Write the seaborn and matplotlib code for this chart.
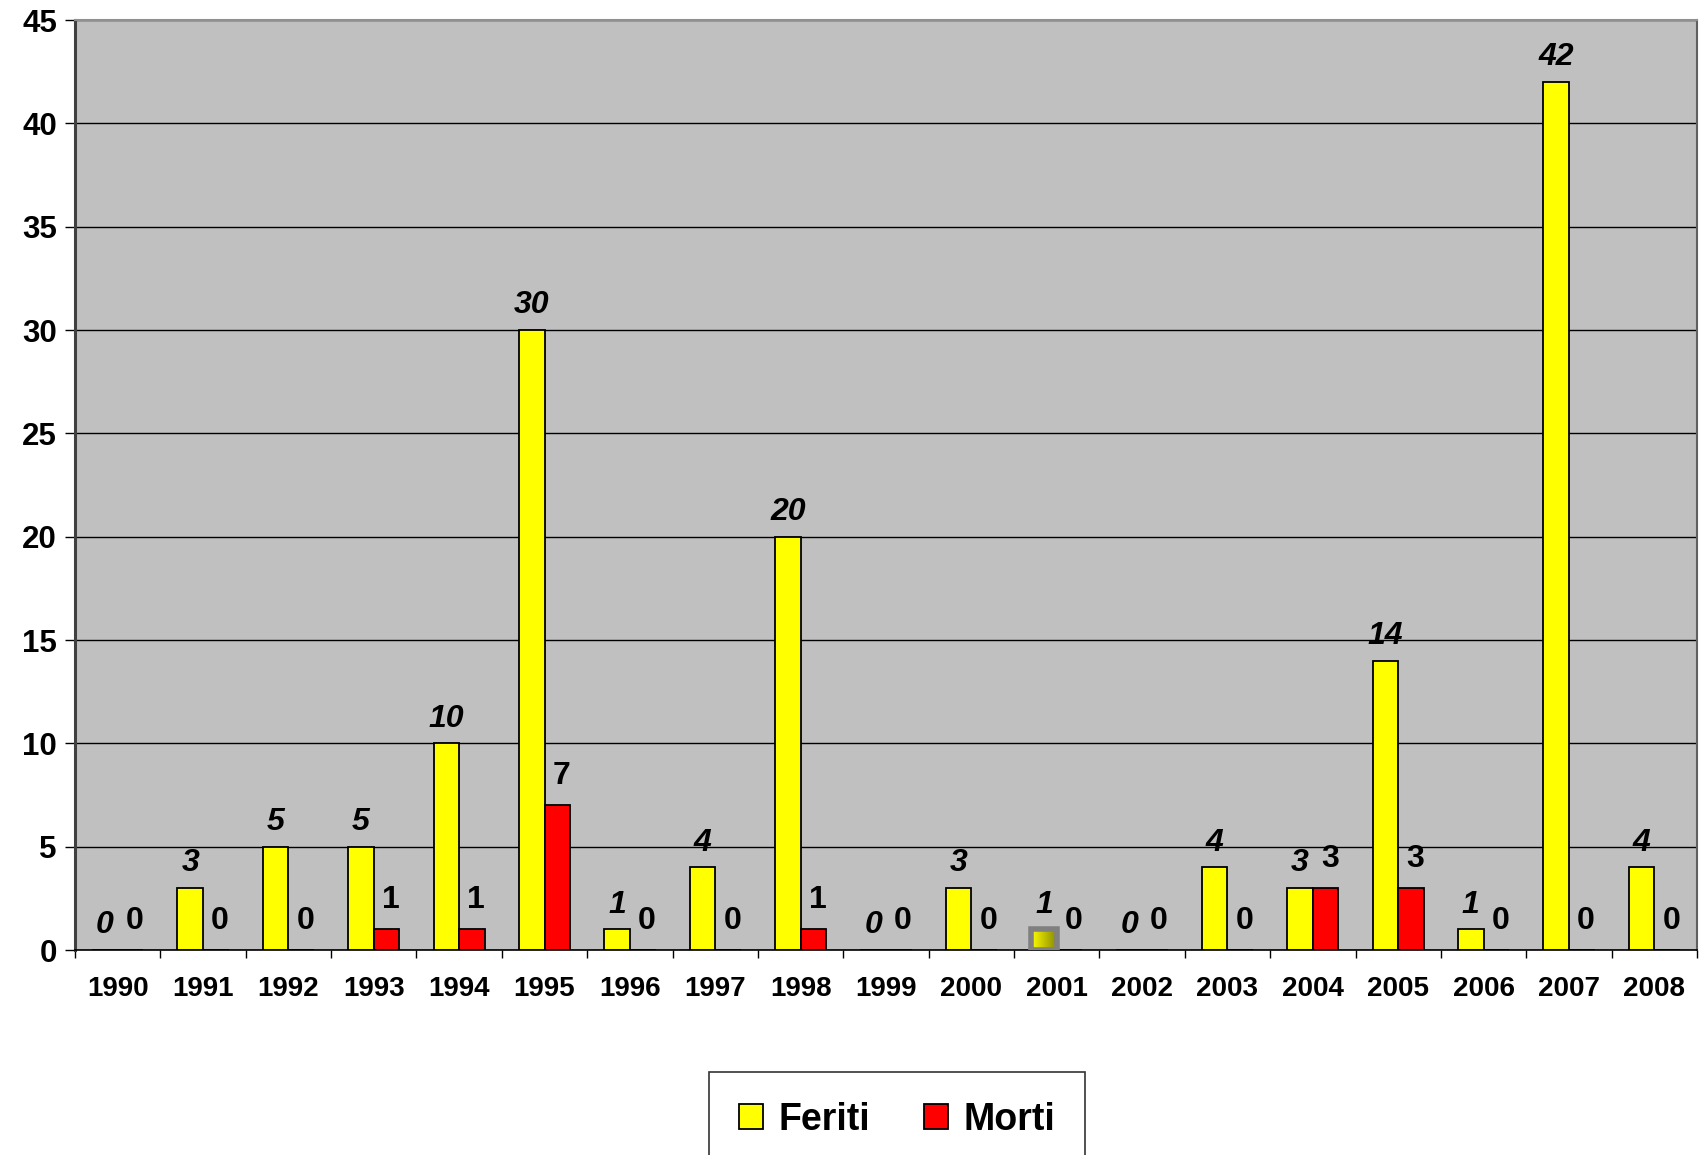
import matplotlib
matplotlib.use("Agg")
import matplotlib.pyplot as plt
import seaborn as sns
import pandas as pd
import numpy as np
from matplotlib.ticker import MultipleLocator, FixedLocator

years = [str(y) for y in range(1990, 2009)]
feriti = [0, 3, 5, 5, 10, 30, 1, 4, 20, 0, 3, 1, 0, 4, 3, 14, 1, 42, 4]
morti = [0, 0, 0, 1, 1, 7, 0, 0, 1, 0, 0, 0, 0, 0, 3, 3, 0, 0, 0]
series = ["Feriti", "Morti"]
colors = {"Feriti": "#FFFF00", "Morti": "#FF0000"}

df = pd.DataFrame({
    "anno": years * 2,
    "valore": feriti + morti,
    "serie": ["Feriti"] * len(years) + ["Morti"] * len(years),
})

sns.set_style("white")
plt.rcParams["font.family"] = ["Liberation Sans", "DejaVu Sans"]
plt.rcParams["font.weight"] = "bold"
plt.rcParams["text.color"] = "black"
plt.rcParams["xtick.color"] = "black"
plt.rcParams["ytick.color"] = "black"

fig = plt.figure(figsize=(17.02, 11.55), dpi=100)
ax = fig.add_axes([75 / 1702, 1 - 950 / 1155, 1622 / 1702, 930 / 1155])
ax.set_facecolor("#C0C0C0")

sns.barplot(data=df, x="anno", y="valore", hue="serie", hue_order=series,
            palette=colors, saturation=1, width=0.6, edgecolor="black",
            linewidth=1.3, ax=ax, zorder=3)

ax.set_ylim(0, 45)
ax.set_xlim(-0.5, len(years) - 0.5)
ax.yaxis.set_major_locator(MultipleLocator(5))
ax.grid(axis="y", color="black", linewidth=1.0, zorder=0)
ax.set_axisbelow(True)
ax.set_xlabel("")
ax.set_ylabel("")

# tick marks between categories, labels centred
ax.tick_params(axis="x", which="major", length=0, pad=19, labelsize=20,
               labelcolor="black")
ax.xaxis.set_minor_locator(FixedLocator(np.arange(-0.5, len(years), 1.0)))
ax.tick_params(axis="x", which="minor", length=6, width=1, color="black",
               direction="out", bottom=True)
ax.tick_params(axis="y", length=7, width=1, color="black", direction="out",
               left=True, labelsize=22.5, pad=6, labelcolor="black")
for lab in ax.get_xticklabels() + ax.get_yticklabels():
    lab.set_fontweight("bold")

ax.spines["left"].set_color("#404040")
ax.spines["left"].set_linewidth(2.2)
ax.spines["bottom"].set_color("black")
ax.spines["bottom"].set_linewidth(1.2)
ax.spines["top"].set_color("#909090")
ax.spines["right"].set_color("#606060")
ax.spines["top"].set_linewidth(1.5)
ax.spines["right"].set_linewidth(1.5)

# value labels
ax.bar_label(ax.containers[0], padding=7, fontsize=23, fontweight="bold",
             fontstyle="italic", color="black", zorder=5)
red_labels = ax.bar_label(ax.containers[1], padding=10, fontsize=23,
                          fontweight="bold", color="black", zorder=5)
for t in red_labels:
    t.set_x(t.get_position()[0])
    t.xyann = (3, t.xyann[1])

# selected point look for 2001
p = ax.containers[0][years.index("2001")]
x0, y0 = p.get_x(), p.get_y()
w, h = p.get_width(), p.get_height()
grad = np.linspace(0, 1, 100).reshape(1, -1)
cmap = matplotlib.colors.LinearSegmentedColormap.from_list("g", ["#FFFF00", "#8A8A00"])
im = ax.imshow(grad, extent=[x0, x0 + w, y0, y0 + h], aspect="auto",
               cmap=cmap, zorder=3.5)
im.set_clip_path(p)
p.set_facecolor("none")
p.set_edgecolor("#808080")
p.set_linewidth(4)
p.set_zorder(4)
ax.set_xlim(-0.5, len(years) - 0.5)
ax.set_ylim(0, 45)

handles, labels = ax.get_legend_handles_labels()
ax.get_legend().remove()
leg = fig.legend(handles, labels, loc="upper center",
                 bbox_to_anchor=(897 / 1702, 1 - 1072 / 1155), ncol=2,
                 frameon=True, fancybox=False, shadow=False,
                 prop={"size": 27, "weight": "bold"},
                 handlelength=0.65, handleheight=0.65, handletextpad=0.4,
                 columnspacing=1.45, borderpad=0.8, borderaxespad=0)
leg.get_frame().set_edgecolor("black")
leg.get_frame().set_linewidth(1.2)
for hd in leg.legend_handles:
    hd.set_edgecolor("black")
    hd.set_linewidth(1.3)

fig.savefig("out.png", dpi=100)
